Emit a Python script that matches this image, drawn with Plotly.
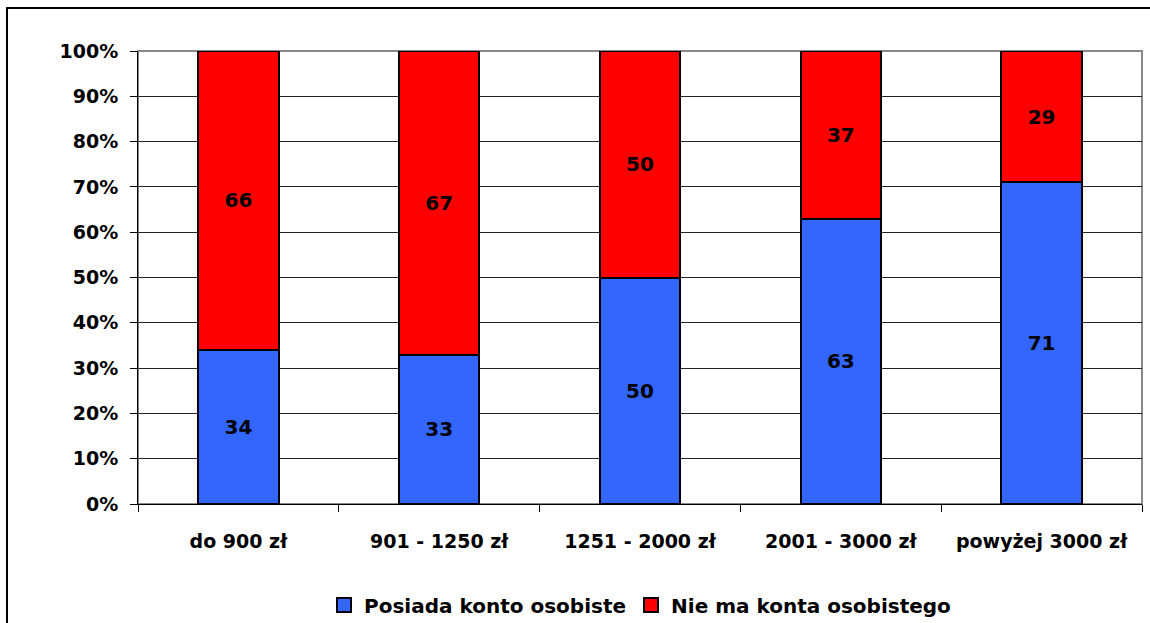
import plotly.graph_objects as go

categories = ["do 900 zł", "901 - 1250 zł", "1251 - 2000 zł", "2001 - 3000 zł", "powyżej 3000 zł"]
posiada = [34, 33, 50, 63, 71]
nie_ma = [66, 67, 50, 37, 29]
series_names = ["Posiada konto osobiste", "Nie ma konta osobistego"]
series_colors = ["#3366FF", "#FF0000"]
y_ticks = [0, 10, 20, 30, 40, 50, 60, 70, 80, 90, 100]
y_tick_labels = [f"{v}%" for v in y_ticks]

FONT = "DejaVu Sans, Liberation Sans, Arial, sans-serif"
W, H = 1150, 623
L, R, T, B = 138, 8, 51, 119
pw, ph = W - L - R, H - T - B

fig = go.Figure()
for name, vals, color in zip(series_names, [posiada, nie_ma], series_colors):
    fig.add_trace(go.Bar(
        x=categories, y=vals, name=name, showlegend=False,
        marker=dict(color=color, line=dict(color="#000000", width=2)),
        text=[str(v) for v in vals], textposition="inside",
        insidetextanchor="middle", constraintext="none",
        textfont=dict(family=FONT, size=20, color="#000000", weight="bold"),
        hoverinfo="skip",
    ))
# legend entries (bigger square swatches, like the original)
for name, color in zip(series_names, series_colors):
    fig.add_trace(go.Scatter(
        x=[None], y=[None], mode="markers", name=name,
        marker=dict(symbol="square", size=14, color=color, line=dict(color="#000000", width=2)),
        hoverinfo="skip",
    ))

def px_x(x):
    return (x - L) / pw

def px_y(y):
    return (H - B - y) / ph

fig.update_layout(
    width=W, height=H,
    margin=dict(l=L, r=R, t=T, b=B, pad=0, autoexpand=False),
    paper_bgcolor="#FFFFFF", plot_bgcolor="#FFFFFF",
    barmode="stack", bargap=0.6,
    font=dict(family=FONT, size=19, color="#000000", weight="bold"),
    showlegend=True,
    legend=dict(orientation="h", traceorder="normal",
                x=0.5, xanchor="center", yref="container", y=1 - 605 / H, yanchor="middle",
                font=dict(family=FONT, size=20, color="#000000", weight="bold"),
                itemwidth=30, bgcolor="rgba(0,0,0,0)"),
    xaxis=dict(
        type="category", tickson="boundaries", ticks="outside", ticklen=7, tickcolor="#000000",
        showline=True, linecolor="#000000", linewidth=1, showgrid=False,
        tickfont=dict(family=FONT, size=19, color="#000000", weight="bold"),
        ticklabelstandoff=20, fixedrange=True, automargin=False,
    ),
    yaxis=dict(
        range=[0, 100], tickvals=y_ticks, ticktext=y_tick_labels,
        ticks="outside", ticklen=7, tickcolor="#000000",
        showline=True, linecolor="#000000", linewidth=1,
        showgrid=True, gridcolor="#222222", gridwidth=1, zeroline=False,
        tickfont=dict(family=FONT, size=19, color="#000000", weight="bold"),
        ticklabelstandoff=8, fixedrange=True, automargin=False,
    ),
    shapes=[
        dict(type="rect", xref="paper", yref="paper", x0=0, x1=1, y0=0, y1=1,
             line=dict(color="#888888", width=2), fillcolor="rgba(0,0,0,0)", layer="between"),
        dict(type="rect", xref="paper", yref="paper",
             x0=px_x(7), x1=px_x(W + 5), y0=px_y(H + 5), y1=px_y(8),
             line=dict(color="#000000", width=2), fillcolor="rgba(0,0,0,0)", layer="above"),
    ],
)

fig.write_html("out.html", config={"displayModeBar": False},
               post_script="document.body.style.margin='0';document.body.style.overflow='hidden';")
